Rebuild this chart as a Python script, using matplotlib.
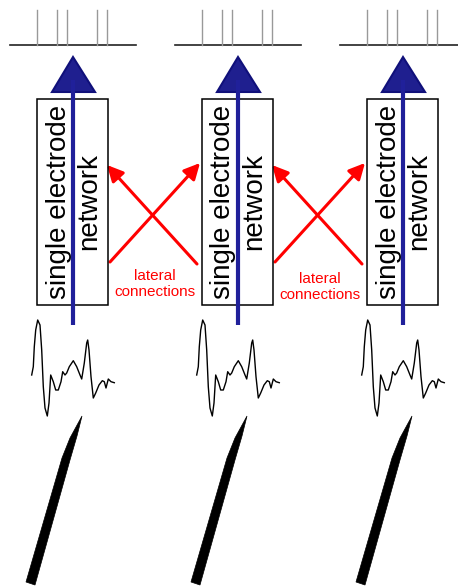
import numpy as np
import matplotlib
matplotlib.use('Agg')
import matplotlib.pyplot as plt
from matplotlib.patches import Rectangle, Polygon, FancyArrowPatch

# column offsets (pixels) of the three electrode columns
col_offsets = [0, 165, 330]

# spike raster (x positions of spikes, relative to column 0)
spike_x = [37, 57, 67, 97, 107]
raster_x0, raster_x1 = 10, 136

# recorded waveform, relative to column 0
wave_x = [31.7, 33.3, 34.3, 35.7, 37.7, 40, 41.7, 43.3, 45, 47.3, 49, 50.7, 53.3, 55.7,
          58.3, 61, 62.7, 65, 66.7, 69.3, 73.3, 76.7, 80, 81.7, 84.3, 86.7, 87.7, 89,
          91, 93.3, 95.7, 99, 102.3, 104.3, 106, 108.3, 111, 114.3]
wave_y = [375, 366.7, 346.7, 330, 320, 325, 350, 386.7, 408, 416, 403, 375, 381.7, 390,
          390, 381.7, 371.7, 375, 373, 366.7, 360.7, 366.7, 375, 379, 363, 343, 340, 350,
          376.7, 398, 393, 385, 380.7, 381.7, 388, 379, 381.7, 382.7]

# electrode needle outline
needle_x = [82, 77, 70, 35, 26, 62, 70]
needle_y = [416, 436, 460, 585, 582, 458, 438]

box_label = "single electrode\nnetwork"
lateral_label = "lateral\nconnections"

navy = '#1f1f8f'
red = '#ff0000'

fig = plt.figure(figsize=(4.58, 5.88), dpi=100)
ax = fig.add_axes([0, 0, 1, 1])
ax.set_xlim(0, 458)
ax.set_ylim(588, 0)
ax.axis('off')

for i, dx in enumerate(col_offsets):
    # raster
    ax.plot([raster_x0 + dx, raster_x1 + dx], [45, 45], color='#222222', lw=1.2)
    for sx in spike_x:
        ax.plot([sx + dx, sx + dx], [10, 45], color='#999999', lw=1.0)

    # box
    ax.add_patch(Rectangle((37 + dx, 99), 71, 206, fill=False, ec='black', lw=1.1, zorder=2))
    ax.text(74 + dx, 202, box_label, rotation=90, ha='center', va='center',
            fontsize=20, family='Liberation Sans', linespacing=1.25, zorder=3)

    # blue axon line and triangle (neuron)
    ax.plot([73 + dx, 73 + dx], [325, 80], color='#20209a', lw=3, zorder=4, solid_capstyle='butt')
    ax.add_patch(Polygon([[73 + dx, 57], [52 + dx, 92], [95 + dx, 92]], closed=True,
                         fc=navy, ec='#10107a', lw=1.5, zorder=3))

    # waveform
    ax.plot(np.array(wave_x) + dx, wave_y, color='black', lw=1.0, solid_joinstyle='round')

    # needle
    ax.add_patch(Polygon(np.column_stack([np.array(needle_x) + dx, needle_y]),
                         closed=True, fc='black', ec='black', lw=0.5))

    # lateral connections between neighbouring columns
    if i < len(col_offsets) - 1:
        for (x0, y0, x1, y1) in [(110, 262, 200, 163), (197, 264, 107, 165)]:
            ax.add_patch(FancyArrowPatch((x0 + dx, y0), (x1 + dx, y1), arrowstyle='-|>',
                                         mutation_scale=24, color=red, lw=2.2,
                                         shrinkA=0, shrinkB=0))
        ty = 284 if i == 0 else 287
        ax.text(155 + dx, ty, lateral_label, ha='center', va='center', color=red,
                fontsize=11, family='Liberation Sans', linespacing=1.2)

fig.savefig('out.png', dpi=100)
